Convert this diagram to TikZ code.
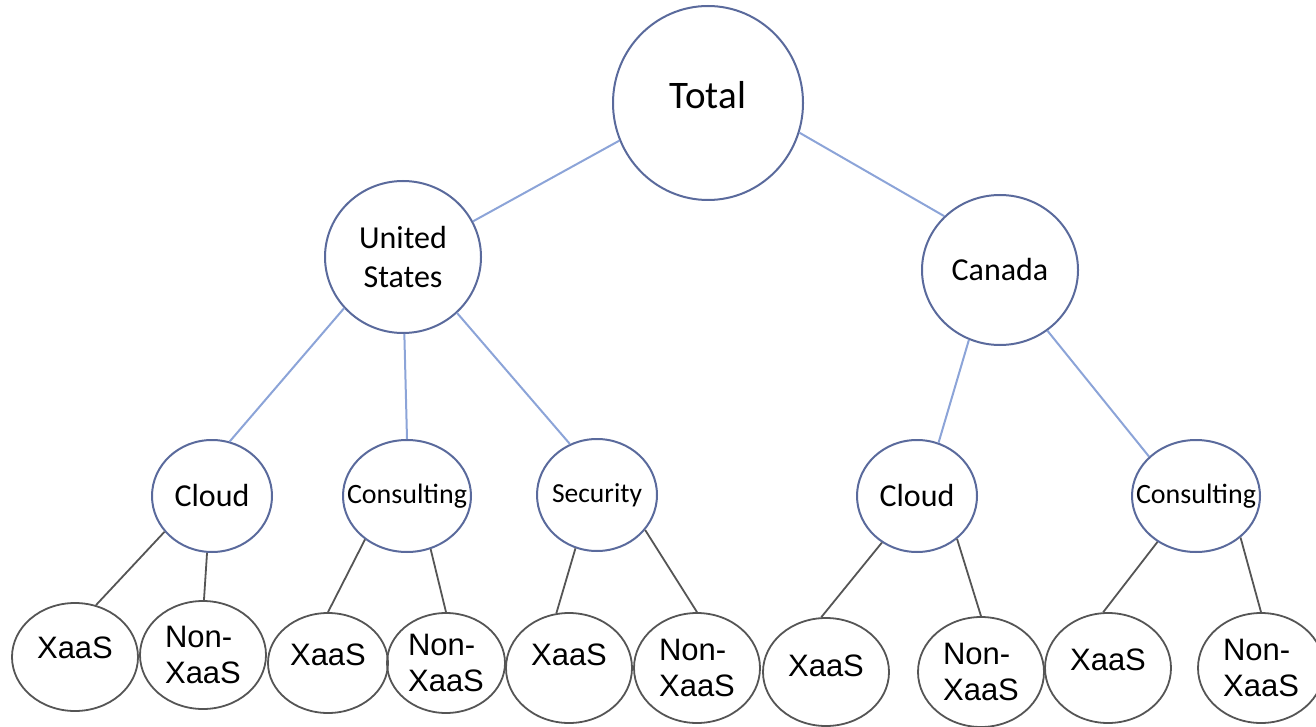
\documentclass[tikz,border=0pt]{standalone}
\usepackage{fontspec}
\newfontfamily\calfont{Carlito}
\newfontfamily\arialfont{Liberation Sans}
\usetikzlibrary{shapes.geometric}
\definecolor{ringblue}{HTML}{5A6A9C}
\definecolor{linkblue}{HTML}{8CA4D8}
\definecolor{leafgray}{HTML}{555555}
\tikzset{
  region/.style={
    ellipse, draw=ringblue, line width=2pt,
    inner sep=0pt, align=center,
    font=\calfont\fontsize{32}{39}\selectfont
  },
  segment/.style={
    region, minimum width=120, minimum height=112
  },
  leaf/.style={
    ellipse, draw=leafgray, line width=1.8pt,
    inner sep=0pt, align=left,
    minimum width=126, minimum height=108,
    font=\arialfont\fontsize{31}{36}\selectfont
  },
  link/.style={draw=linkblue, line width=2pt},
  leaflink/.style={draw=leafgray, line width=1.8pt},
}

\begin{document}
\begin{tikzpicture}[x=1pt, y=-1pt]

  \useasboundingbox (0,0) rectangle (1316,727);

  % ── Row positions ─────────────────────────────────────────────
  \def\rowA{103}      % Total
  \def\rowC{496}      % segments
  \def\rowD{666}      % XaaS / Non-XaaS

  % ── Top and countries ─────────────────────────────────────────
  \node[region, minimum width=190, minimum height=194, text depth=16pt,
        font=\calfont\fontsize{39}{46}\selectfont] (tot) at (708,\rowA)
    {Total};
  \node[region, minimum width=156, minimum height=152] (us) at (403,257)
    {United\\States};
  \node[region, minimum width=156, minimum height=150] (ca) at (1000,270)
    {Canada};

  % ── Segments (wide words kept inside the ring) ────────────────
  \node[segment] (uscloud) at (212,\rowC) {Cloud};
  \node[segment, minimum width=128,
        font=\calfont\fontsize{28}{34}\selectfont] (uscons) at (407,\rowC)
    {\makebox[0pt]{Consulting}};
  \node[segment, font=\calfont\fontsize{27.5}{33}\selectfont]
    (ussec) at (597,495) {\makebox[0pt]{Security}};
  \node[segment] (cacloud) at (917,\rowC) {Cloud};
  \node[segment, minimum width=128,
        font=\calfont\fontsize{28}{34}\selectfont] (cacons) at (1196,\rowC)
    {\makebox[0pt]{Consulting}};

  % ── Leaves ────────────────────────────────────────────────────
  \node[leaf, text depth=18pt] (usclx) at (75,657) {XaaS};
  \node[leaf] (usclnx) at (203,655) {Non-\\XaaS};
  \node[leaf, minimum width=120, minimum height=100, text depth=16pt]
    (uscox) at (328,663) {XaaS};
  \node[leaf, minimum width=118, minimum height=100] (usconx) at (446,663)
    {Non-\\XaaS};
  \node[leaf, minimum height=110, text depth=26pt] (ussex) at (569,668)
    {XaaS};
  \node[leaf, minimum height=110] (ussenx) at (697,668) {Non-\\XaaS};
  \node[leaf, text depth=12pt] (caclx) at (826,672) {XaaS};
  \node[leaf, minimum height=110] (caclnx) at (981,672) {Non-\\XaaS};
  \node[leaf, minimum height=110, text depth=16pt] (cacox) at (1108,668)
    {XaaS};
  \node[leaf, minimum height=110] (caconx) at (1261,668) {Non-\\XaaS};

  % ── Blue links ────────────────────────────────────────────────
  \draw[link] (tot.203) -- (us.27);
  \draw[link] (tot.-18) -- (ca.136);
  \draw[link] (us.221) -- (uscloud.72);
  \draw[link] (us.271) -- (uscons.90);
  \draw[link] (us.-46) -- (ussec.118);
  \draw[link] (ca.246) -- (cacloud.68);
  \draw[link] (ca.-52) -- (cacons.140);

  % ── Gray links ────────────────────────────────────────────────
  \draw[leaflink] (uscloud.217) -- (usclx.68);
  \draw[leaflink] (uscloud.265) -- (usclnx.89);
  \draw[leaflink] (uscons.226) -- (uscox.90);
  \draw[leaflink] (uscons.-66) -- (usconx.90);
  \draw[leaflink] (ussec.248) -- (ussex.103);
  \draw[leaflink] (ussec.-36) -- (ussenx.90);
  \draw[leaflink] (cacloud.233) -- (caclx.95);
  \draw[leaflink] (cacloud.-47) -- (caclnx.90);
  \draw[leaflink] (cacons.230) -- (cacox.95);
  \draw[leaflink] (cacons.-43) -- (caconx.90);

\end{tikzpicture}
\end{document}
